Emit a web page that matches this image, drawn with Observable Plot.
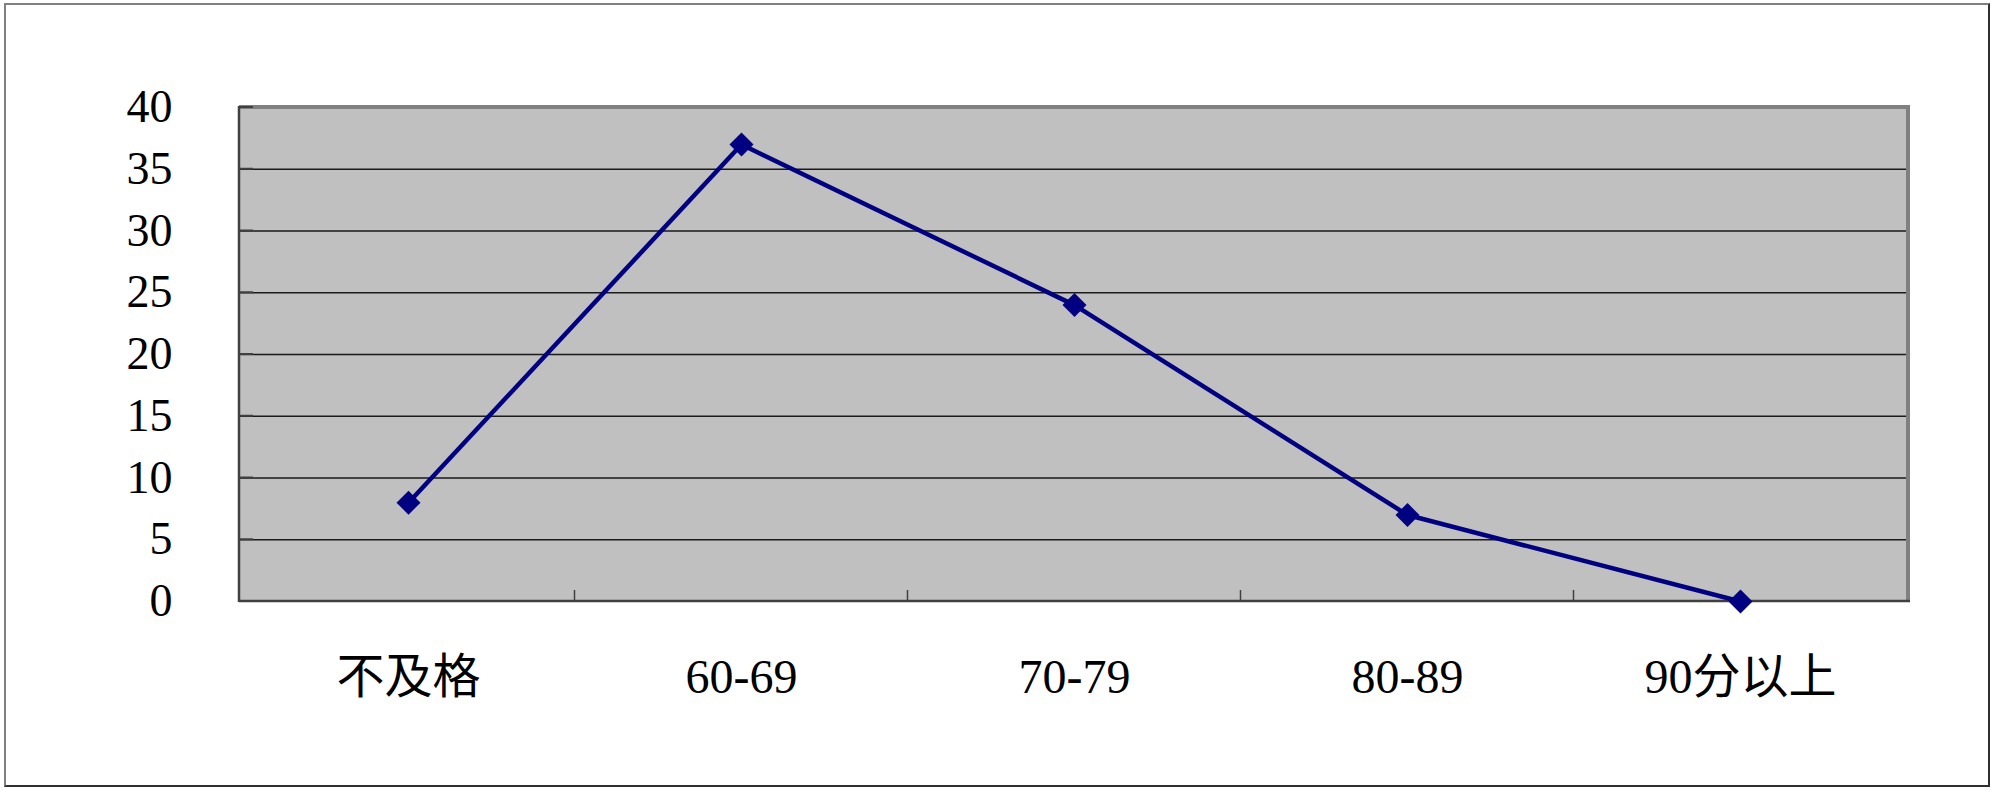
<!DOCTYPE html>
<html>
<head>
<meta charset="utf-8">
<script src="https://cdn.jsdelivr.net/npm/d3@7"></script>
<script src="https://cdn.jsdelivr.net/npm/@observablehq/plot@0.6"></script>
<style>
  html, body { margin: 0; padding: 0; background: white; }
  #wrap { position: relative; width: 2000px; height: 799px; }
  #frame { position: absolute; left: 4px; top: 3px; width: 1982px; height: 780px;
           border-left: 2px solid #808080; border-top: 2px solid #808080;
           border-right: 2px solid #303030; border-bottom: 2px solid #303030; pointer-events: none; }
</style>
</head>
<body>
<div id="wrap"><div id="frame"></div></div>
<script>
const categories = ["不及格", "60-69", "70-79", "80-89", "90分以上"];
const counts = [8, 37, 24, 7, 0];
const yTicks = [0, 5, 10, 15, 20, 25, 30, 35, 40];

const data = categories.map((c, i) => ({cat: c, n: counts[i]}));
const gridVals = yTicks.filter(v => v > yTicks[0] && v < yTicks[yTicks.length - 1]);

function borders(index, scales, values, dims) {
  const l = dims.marginLeft, r = dims.width - dims.marginRight;
  const t = dims.marginTop, b = dims.height - dims.marginBottom;
  const g = d3.create("svg:g");
  g.append("line").attr("x1", l).attr("x2", r + 2).attr("y1", t).attr("y2", t)
    .attr("stroke", "#808080").attr("stroke-width", 4);
  g.append("line").attr("x1", r).attr("x2", r).attr("y1", t).attr("y2", b)
    .attr("stroke", "#808080").attr("stroke-width", 4);
  g.append("line").attr("x1", l).attr("x2", l).attr("y1", t - 1).attr("y2", b + 1)
    .attr("stroke", "#404040").attr("stroke-width", 2.5);
  g.append("line").attr("x1", l).attr("x2", r + 2).attr("y1", b).attr("y2", b)
    .attr("stroke", "#404040").attr("stroke-width", 2.5);
  for (const v of yTicks) {
    const y = scales.y(v);
    g.append("line").attr("x1", l).attr("x2", l + 14).attr("y1", y).attr("y2", y)
      .attr("stroke", "#404040").attr("stroke-width", 2);
  }
  const pts = categories.map(c => scales.x(c));
  for (let i = 0; i < pts.length - 1; i++) {
    const x = (pts[i] + pts[i + 1]) / 2;
    g.append("line").attr("x1", x).attr("x2", x).attr("y1", b).attr("y2", b - 11)
      .attr("stroke", "#404040").attr("stroke-width", 1.5);
  }
  return g.node();
}

const fontFam = "'Liberation Serif', 'Noto Sans CJK SC', serif";

const chart = Plot.plot({
  width: 2000,
  height: 799,
  marginLeft: 239,
  marginRight: 92,
  marginTop: 107,
  marginBottom: 198,
  style: {background: "transparent", color: "black", overflow: "visible"},
  x: {type: "point", domain: categories, padding: 0.5},
  y: {domain: [yTicks[0], yTicks[yTicks.length - 1]]},
  marks: [
    Plot.frame({fill: "#c0c0c0", stroke: "none"}),
    Plot.ruleY(gridVals, {stroke: "#1a1a1a", strokeWidth: 1.5}),
    borders,
    Plot.axisY(yTicks, {tickSize: 0, tickPadding: 67, fontSize: 46, fontFamily: fontFam, label: null, fill: "black"}),
    Plot.axisX({tickSize: 0, tickPadding: 57, fontSize: 48, fontFamily: fontFam, label: null, fill: "black"}),
    Plot.line(data, {x: "cat", y: "n", stroke: "#000080", strokeWidth: 4.5}),
    Plot.dot(data, {x: "cat", y: "n", symbol: "diamond2", r: 10.8, fill: "#000080", stroke: "none"})
  ]
});
chart.style.position = "absolute";
chart.style.left = "0px";
chart.style.top = "0px";
document.getElementById("wrap").prepend(chart);
</script>
</body>
</html>
